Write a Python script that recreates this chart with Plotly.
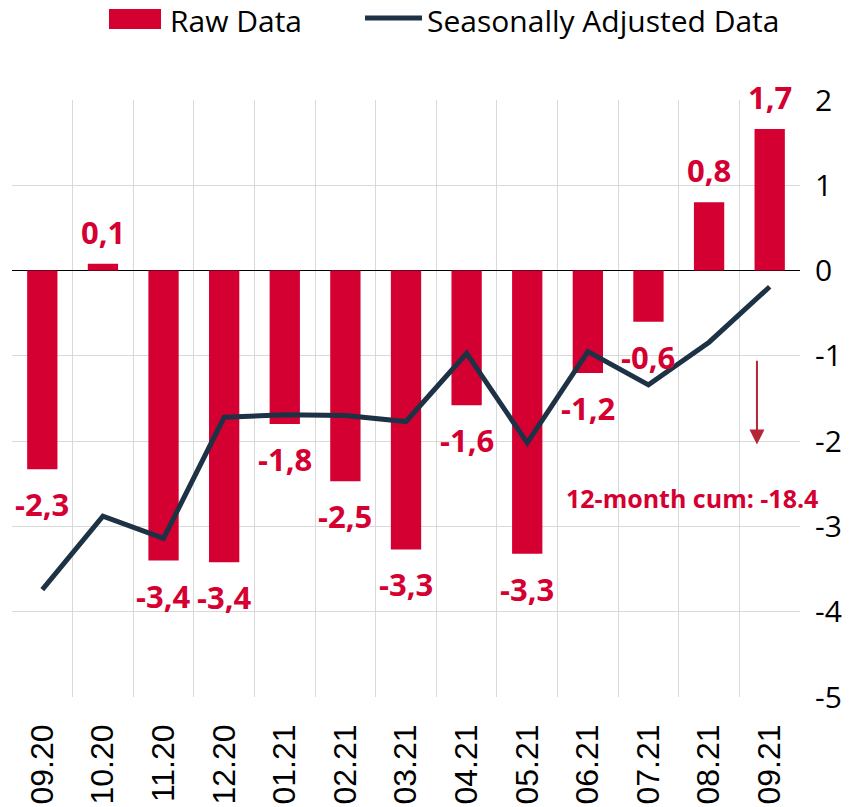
import plotly.graph_objects as go

categories = ["09.20", "10.20", "11.20", "12.20", "01.21", "02.21", "03.21",
              "04.21", "05.21", "06.21", "07.21", "08.21", "09.21"]
raw_data = [-2.33, 0.08, -3.40, -3.42, -1.80, -2.47, -3.27, -1.58, -3.32, -1.20, -0.60, 0.80, 1.66]
raw_labels = ["-2,3", "0,1", "-3,4", "-3,4", "-1,8", "-2,5", "-3,3", "-1,6", "-3,3", "-1,2", "-0,6", "0,8", "1,7"]
seasonally_adjusted = [-3.74, -2.88, -3.14, -1.72, -1.69, -1.70, -1.77, -0.97, -2.02, -0.95, -1.34, -0.84, -0.19]
y_ticks = [2, 1, 0, -1, -2, -3, -4, -5]
cum_text = "12-month cum: -18.4"
legend_names = ["Raw Data", "Seasonally Adjusted Data"]

RED = "#D50032"
NAVY = "#1E3246"

fig = go.Figure()
fig.add_trace(go.Bar(
    x=categories, y=raw_data, name=legend_names[0],
    marker=dict(color=RED, line=dict(width=0)),
    width=0.5, showlegend=False,
))
fig.add_trace(go.Scatter(
    x=categories, y=seasonally_adjusted, name=legend_names[1],
    mode="lines", line=dict(color=NAVY, width=5), cliponaxis=False, showlegend=False,
))

# bar value labels, anchored at the bar ends (category index) and shifted outward
for i, (val, lab) in enumerate(zip(raw_data, raw_labels)):
    fig.add_annotation(
        x=i, y=val, xref="x", yref="y", text=lab, showarrow=False,
        yshift=32 if val >= 0 else -35,
        font=dict(family="Open Sans", size=31, color=RED, weight="bold"),
    )

# arrow and cumulative annotation
fig.add_annotation(
    x=11.79, y=-2.04, ax=11.79, ay=-1.04, xref="x", yref="y", axref="x", ayref="y",
    text="", showarrow=True, arrowhead=2, arrowsize=1.5, arrowwidth=2,
    arrowcolor="#B52537",
)
fig.add_annotation(
    x=10.72, y=-2.67, xref="x", yref="y", text=cum_text, showarrow=False,
    font=dict(family="Open Sans", size=25, color=RED, weight="bold"),
)

# custom legend (paper coordinates)
fig.add_shape(type="rect", xref="paper", yref="paper", x0=0.1231, x1=0.1891, y0=1.1189, y1=1.1524,
              fillcolor=RED, line=dict(width=0))
fig.add_annotation(x=0.1980, y=1.1340, xref="paper", yref="paper", xanchor="left", yanchor="middle",
                   text=legend_names[0], showarrow=False,
                   font=dict(family="Open Sans", size=30, color="black"))
fig.add_shape(type="line", xref="paper", yref="paper", x0=0.4480, x1=0.5203, y0=1.1374, y1=1.1374,
              line=dict(color=NAVY, width=5))
fig.add_annotation(x=0.5241, y=1.1340, xref="paper", yref="paper", xanchor="left", yanchor="middle",
                   text=legend_names[1], showarrow=False,
                   font=dict(family="Open Sans", size=30, color="black"))

fig.update_layout(
    width=864, height=807,
    margin=dict(l=12, r=64, t=100, b=110),
    plot_bgcolor="white", paper_bgcolor="white",
    font=dict(family="Open Sans", color="black"),
    showlegend=False,
)
fig.update_xaxes(
    type="category", tickson="boundaries", showgrid=True, gridcolor="#D9D9D9", gridwidth=1,
    tickangle=-90, tickfont=dict(family="Liberation Sans, Arial", size=32, color="black"),
    ticks="", showline=False, zeroline=False, range=[-0.5, 12.5], automargin=False,
    ticklabelstandoff=20,
)
fig.update_yaxes(
    side="right", range=[-5, 2], tickvals=y_ticks, ticktext=[str(v) for v in y_ticks],
    showgrid=True, gridcolor="#D9D9D9", gridwidth=1,
    zeroline=True, zerolinecolor="black", zerolinewidth=1.2,
    tickfont=dict(family="Open Sans", size=30, color="black"),
    ticks="", ticklabelstandoff=14, showline=False, automargin=False,
)

fig.write_html("out.html", config={"displayModeBar": False},
               post_script="document.body.style.margin='0';")
